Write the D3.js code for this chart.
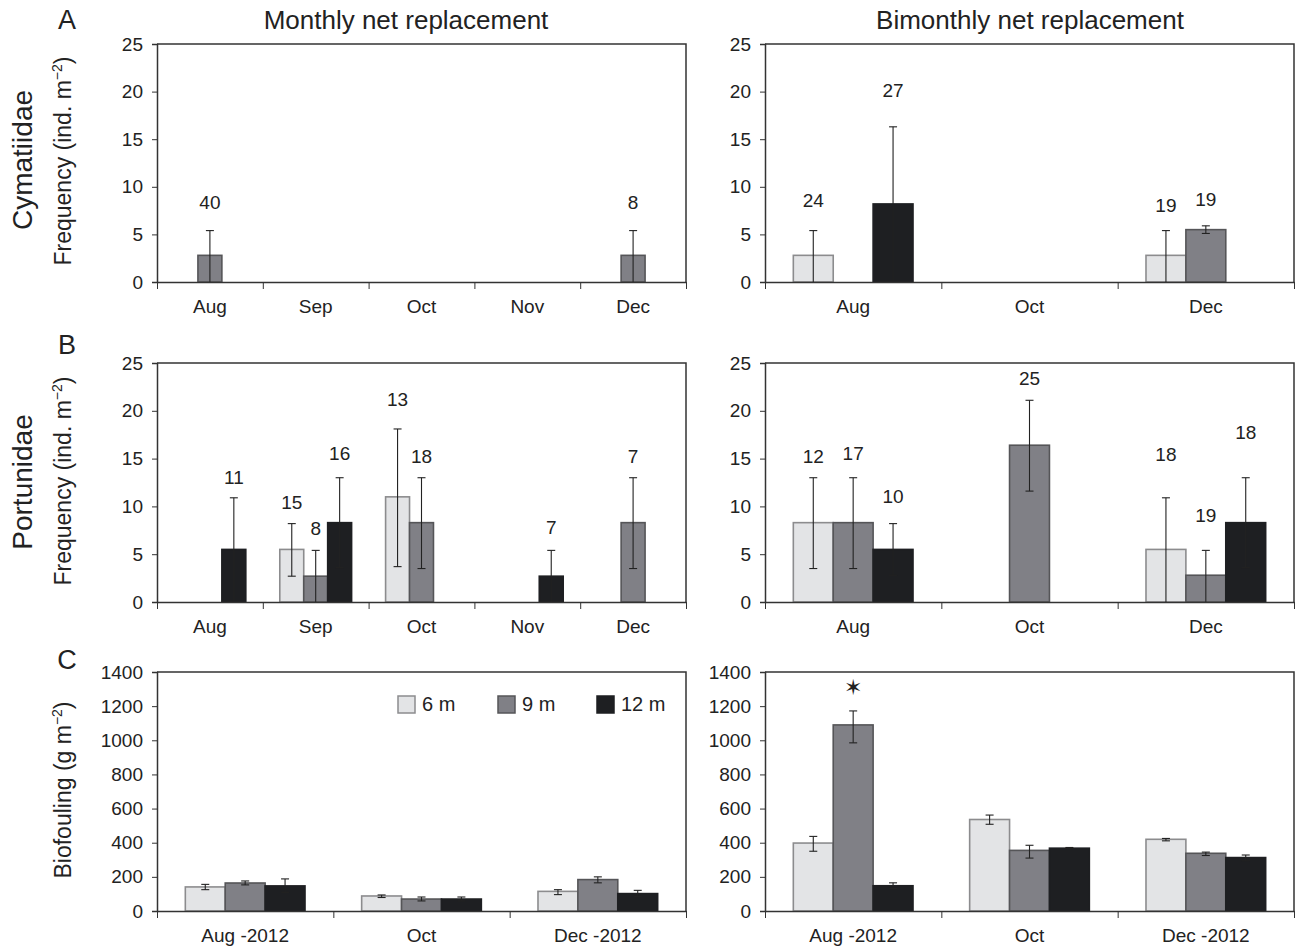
<!DOCTYPE html>
<html>
<head>
<meta charset="utf-8">
<script src="https://cdn.jsdelivr.net/npm/d3@7"></script>
<style>
  body { margin: 0; background: #fff; }
  svg text { font-family: "Liberation Sans", Arial, sans-serif; fill: #222; }
</style>
</head>
<body>
<svg id="chart" width="1295" height="951"></svg>
<script>
// categories and series
const series = ["6 m", "9 m", "12 m"];
const monthCats = ["Aug", "Sep", "Oct", "Nov", "Dec"];
const bimonthCats = ["Aug", "Oct", "Dec"];
const foulCats = ["Aug -2012", "Oct", "Dec -2012"];

// [category, series, mean, errLow, errHigh, n label, label y (data units)]
const cymMonthly = [
  ["Aug", "9 m", 2.8, 0, 5.4, "40", 8.4],
  ["Dec", "9 m", 2.8, 0, 5.4, "8", 8.4]
];
const cymBimonthly = [
  ["Aug", "6 m", 2.8, 0, 5.4, "24", 8.6],
  ["Aug", "12 m", 8.2, 0.1, 16.3, "27", 20.1],
  ["Dec", "6 m", 2.8, 0, 5.4, "19", 8.1],
  ["Dec", "9 m", 5.5, 5.1, 5.9, "19", 8.7]
];
const portMonthly = [
  ["Aug", "12 m", 5.5, 0.1, 10.9, "11", 13.0],
  ["Sep", "6 m", 5.5, 2.7, 8.2, "15", 10.4],
  ["Sep", "9 m", 2.7, 0, 5.4, "8", 7.7],
  ["Sep", "12 m", 8.3, 3.6, 13.0, "16", 15.5],
  ["Oct", "6 m", 11.0, 3.7, 18.1, "13", 21.2],
  ["Oct", "9 m", 8.3, 3.5, 13.0, "18", 15.2],
  ["Nov", "12 m", 2.7, 0, 5.4, "7", 7.8],
  ["Dec", "9 m", 8.3, 3.5, 13.0, "7", 15.2]
];
const portBimonthly = [
  ["Aug", "6 m", 8.3, 3.5, 13.0, "12", 15.2],
  ["Aug", "9 m", 8.3, 3.5, 13.0, "17", 15.6],
  ["Aug", "12 m", 5.5, 2.8, 8.2, "10", 11.0],
  ["Oct", "9 m", 16.4, 11.6, 21.1, "25", 23.4],
  ["Dec", "6 m", 5.5, 0, 10.9, "18", 15.4],
  ["Dec", "9 m", 2.8, 0, 5.4, "19", 9.1],
  ["Dec", "12 m", 8.3, 3.6, 13.0, "18", 17.7]
];
// biofouling (g m-2): [category, series, mean, errLow, errHigh]
const foulMonthly = [
  ["Aug -2012", "6 m", 141, 125, 156],
  ["Aug -2012", "9 m", 164, 153, 176],
  ["Aug -2012", "12 m", 147, 110, 188],
  ["Oct", "6 m", 88, 79, 94],
  ["Oct", "9 m", 70, 59, 82],
  ["Oct", "12 m", 70, 59, 82],
  ["Dec -2012", "6 m", 115, 96, 125],
  ["Dec -2012", "9 m", 184, 165, 200],
  ["Dec -2012", "12 m", 102, 86, 121]
];
const foulBimonthly = [
  ["Aug -2012", "6 m", 398, 350, 437],
  ["Aug -2012", "9 m", 1090, 985, 1172],
  ["Aug -2012", "12 m", 148, 132, 165],
  ["Oct", "6 m", 536, 508, 562],
  ["Oct", "9 m", 355, 310, 385],
  ["Oct", "12 m", 368, 364, 372],
  ["Dec -2012", "6 m", 420, 411, 425],
  ["Dec -2012", "9 m", 338, 325, 345],
  ["Dec -2012", "12 m", 313, 295, 328]
];
// significance marker: [category, series, y]
const starMarks = [["Aug -2012", "9 m", 1310]];

const fills = { "6 m": "#e3e4e6", "9 m": "#808086", "12 m": "#1e1f22" };
const strokes = { "6 m": "#8c8c8e", "9 m": "#555558", "12 m": "#1e1f22" };

const svg = d3.select("#chart");
const font = "Liberation Sans, Arial, sans-serif";

const panels = [
  { data: cymMonthly, cats: monthCats, x: [157, 686], y: [282, 44], max: 25, step: 5 },
  { data: cymBimonthly, cats: bimonthCats, x: [765, 1294], y: [282, 44], max: 25, step: 5 },
  { data: portMonthly, cats: monthCats, x: [157, 686], y: [602, 363], max: 25, step: 5 },
  { data: portBimonthly, cats: bimonthCats, x: [765, 1294], y: [602, 363], max: 25, step: 5 },
  { data: foulMonthly, cats: foulCats, x: [157, 686], y: [911, 672], max: 1400, step: 200 },
  { data: foulBimonthly, cats: foulCats, x: [765, 1294], y: [911, 672], max: 1400, step: 200, stars: starMarks }
];

panels.forEach(p => {
  const g = svg.append("g");
  const x0 = d3.scaleBand().domain(p.cats).range(p.x);
  const x1 = d3.scaleBand().domain(series).range([0, x0.bandwidth()]).paddingOuter(0.71);
  const y = d3.scaleLinear().domain([0, p.max]).range(p.y);

  // frame (top + right)
  g.append("path")
    .attr("d", `M${p.x[0]},${p.y[1]}H${p.x[1]}V${p.y[0]}`)
    .attr("fill", "none").attr("stroke", "#333").attr("stroke-width", 1.5);

  // bars
  g.selectAll(".bar").data(p.data).enter().append("rect")
    .attr("x", d => x0(d[0]) + x1(d[1]))
    .attr("width", x1.bandwidth())
    .attr("y", d => y(d[2]))
    .attr("height", d => y(0) - y(d[2]))
    .attr("fill", d => fills[d[1]])
    .attr("stroke", d => strokes[d[1]])
    .attr("stroke-width", 1.6);

  // error bars
  const cx = d => x0(d[0]) + x1(d[1]) + x1.bandwidth() / 2;
  const eb = g.selectAll(".err").data(p.data).enter().append("g").attr("stroke", "#222").attr("stroke-width", 1.1);
  eb.append("line").attr("x1", cx).attr("x2", cx).attr("y1", d => y(d[3])).attr("y2", d => y(d[4]));
  eb.append("line").attr("x1", d => cx(d) - 4).attr("x2", d => cx(d) + 4).attr("y1", d => y(d[4])).attr("y2", d => y(d[4]));
  eb.filter(d => d[3] > 0.5 || p.max > 100).append("line")
    .attr("x1", d => cx(d) - 4).attr("x2", d => cx(d) + 4).attr("y1", d => y(d[3])).attr("y2", d => y(d[3]));

  // count labels
  g.selectAll(".n").data(p.data.filter(d => d[5])).enter().append("text")
    .attr("x", cx).attr("y", d => y(d[6]))
    .attr("dy", "0.35em").attr("text-anchor", "middle")
    .style("font-size", "19px").text(d => d[5]);

  if (p.stars) {
    g.selectAll(".star").data(p.stars).enter().append("text")
      .attr("x", cx).attr("y", d => y(d[2])).attr("dy", "0.35em")
      .attr("text-anchor", "middle").style("font-size", "22px")
      .style("font-family", "DejaVu Sans").text("\u2736");
  }

  // y axis
  const ya = g.append("g").attr("transform", `translate(${p.x[0]},0)`)
    .call(d3.axisLeft(y).tickValues(d3.range(0, p.max + 1, p.step)).tickFormat(d3.format("d")).tickSize(5).tickPadding(9));
  ya.select(".domain").attr("stroke", "#333").attr("stroke-width", 1.5);
  ya.selectAll(".tick line").attr("stroke", "#333");
  ya.selectAll("text").style("font-size", "19px").style("font-family", font).attr("fill", "#222");

  // x axis: ticks at band boundaries
  const xb = d3.scaleLinear().domain([0, p.cats.length]).range(p.x);
  const xa = g.append("g").attr("transform", `translate(0,${p.y[0]})`)
    .call(d3.axisBottom(xb).tickValues(d3.range(p.cats.length + 1)).tickFormat("").tickSize(7).tickSizeOuter(0));
  xa.select(".domain").attr("stroke", "#333").attr("stroke-width", 1.5);
  xa.selectAll(".tick line").attr("stroke", "#333");

  g.selectAll(".cat").data(p.cats).enter().append("text")
    .attr("x", d => x0(d) + x0.bandwidth() / 2)
    .attr("y", p.y[0] + 31)
    .attr("text-anchor", "middle").style("font-size", "19px").text(d => d);
});

// column titles
svg.append("text").attr("x", 406).attr("y", 29).attr("text-anchor", "middle").style("font-size", "26px").text("Monthly net replacement");
svg.append("text").attr("x", 1030).attr("y", 29).attr("text-anchor", "middle").style("font-size", "26px").text("Bimonthly net replacement");

// panel letters
[["A", 29], ["B", 354], ["C", 669]].forEach(([t, yy]) => {
  svg.append("text").attr("x", 67).attr("y", yy).attr("text-anchor", "middle").style("font-size", "27px").text(t);
});

// family labels
[["Cymatiidae", 160], ["Portunidae", 482]].forEach(([t, yy]) => {
  svg.append("text").attr("transform", `translate(32,${yy}) rotate(-90)`)
    .attr("text-anchor", "middle").style("font-size", "28px").text(t);
});

// y axis titles with superscript
function yTitle(cy, main) {
  const t = svg.append("text").attr("transform", `translate(71,${cy}) rotate(-90)`)
    .attr("text-anchor", "middle").style("font-size", "23px");
  t.append("tspan").text(main);
  t.append("tspan").attr("dy", -9).style("font-size", "14px").text("\u22122");
  t.append("tspan").attr("dy", 9).text(")");
}
yTitle(161, "Frequency (ind. m");
yTitle(481, "Frequency (ind. m");
yTitle(790, "Biofouling (g m");

// legend
const leg = svg.append("g");
const legX = [398, 498, 597];
series.forEach((s, i) => {
  leg.append("rect").attr("x", legX[i]).attr("y", 696).attr("width", 17).attr("height", 17)
    .attr("fill", fills[s]).attr("stroke", strokes[s]).attr("stroke-width", 1.5);
  leg.append("text").attr("x", legX[i] + 24).attr("y", 711).style("font-size", "20px").text(s);
});
</script>
</body>
</html>
